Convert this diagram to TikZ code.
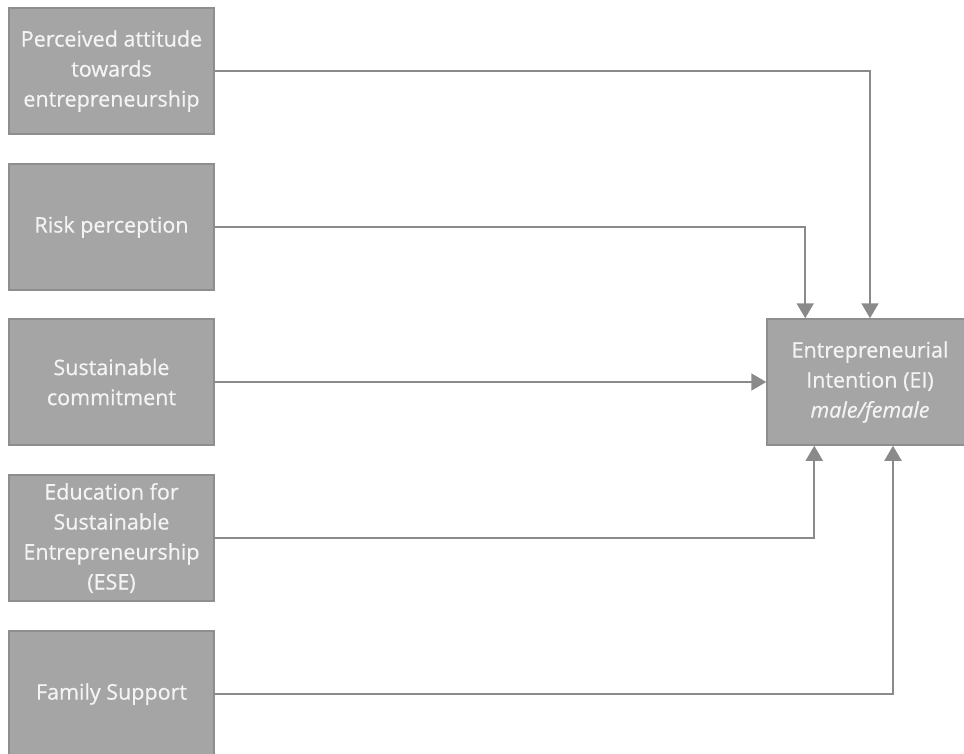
\documentclass[tikz,border=0pt]{standalone}
\usepackage{fontspec}
\setmainfont{Open Sans}[FakeBold=0.6]
\usetikzlibrary{arrows.meta}
\definecolor{boxfill}{HTML}{A5A5A5}
\definecolor{boxline}{HTML}{8E8E8E}
\definecolor{conncol}{HTML}{8A8A8A}
\definecolor{boxtext}{HTML}{F4F4F4}
\begin{document}
\begin{tikzpicture}[x=1pt,y=-1pt,
  factor/.style={draw=boxline, line width=1.5pt, fill=boxfill, text=boxtext,
    minimum width=205pt, minimum height=126pt, inner sep=0pt, align=center,
    font=\fontsize{21.5}{30}\selectfont},
  conn/.style={draw=conncol, line width=2pt,
    -{Triangle[width=17pt,length=15pt]}}]
\useasboundingbox (0,0) rectangle (964,753);
% predictor boxes
\node[factor] (pa)  at (111.5,71)  {Perceived attitude\\towards\\entrepreneurship};
\node[factor] (rp)  at (111.5,227) {Risk perception};
\node[factor] (sc)  at (111.5,382) {Sustainable\\commitment};
\node[factor] (ese) at (111.5,538) {Education for\\Sustainable\\Entrepreneurship\\(ESE)};
\node[factor] (fs)  at (111.5,694) {Family Support};
% outcome box
\node[factor, minimum width=206pt] (ei) at (870,382)
  {Entrepreneurial\\Intention (EI)\\\textit{male/female}};
% connectors
\draw[conn] (pa.east) -| (ei.north);
\draw[conn] (rp.east) -| ([xshift=39pt]ei.north west);
\draw[conn] (sc.east) -- (ei.west);
\draw[conn] (ese.east) -| ([xshift=48pt]ei.south west);
\draw[conn] (fs.east) -| ([xshift=23pt]ei.south);
\end{tikzpicture}
\end{document}
